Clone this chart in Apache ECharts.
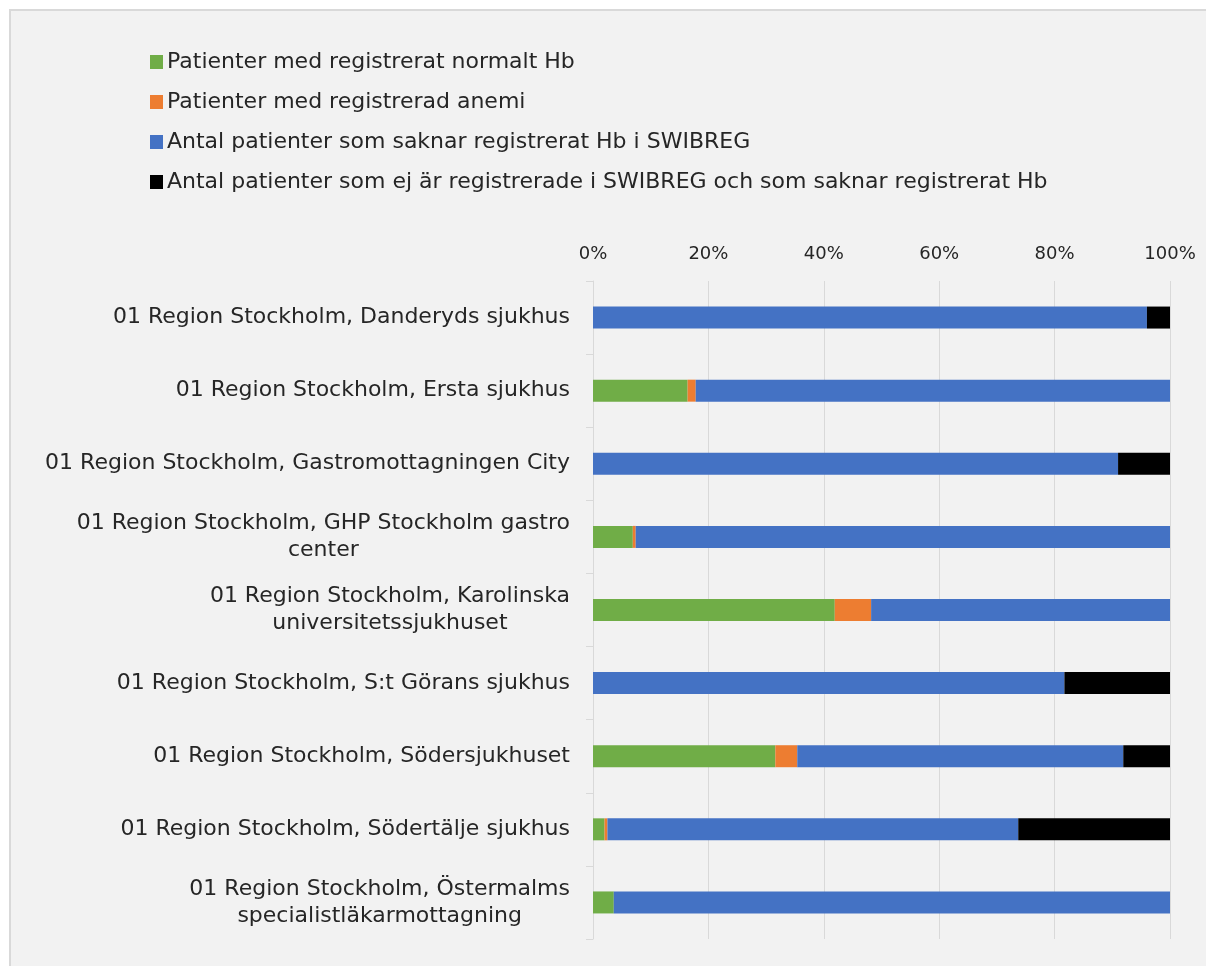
<!DOCTYPE html>
<html><head><meta charset="utf-8">
<script src="https://cdn.jsdelivr.net/npm/echarts@6/dist/echarts.min.js"></script>
<style>
html,body{margin:0;padding:0;background:#ffffff;}
#frame{position:absolute;left:9px;top:9px;width:1197px;height:957px;border-left:2px solid #d9d9d9;border-top:2px solid #d9d9d9;background:#f2f2f2;}
#chart{position:absolute;left:0;top:0;width:1197px;height:957px;}
</style></head>
<body><div id="frame"><div id="chart"></div></div>
<script>
const categories = [
  "01 Region Stockholm, Danderyds sjukhus",
  "01 Region Stockholm, Ersta sjukhus",
  "01 Region Stockholm, Gastromottagningen City",
  "01 Region Stockholm, GHP Stockholm gastro\ncenter",
  "01 Region Stockholm, Karolinska\nuniversitetssjukhuset",
  "01 Region Stockholm, S:t Görans sjukhus",
  "01 Region Stockholm, Södersjukhuset",
  "01 Region Stockholm, Södertälje sjukhus",
  "01 Region Stockholm, Östermalms\nspecialistläkarmottagning"
];
const seriesNames = [
  "Patienter med registrerat normalt Hb",
  "Patienter med registrerad anemi",
  "Antal patienter som saknar registrerat Hb i SWIBREG",
  "Antal patienter som ej är registrerade i SWIBREG och som saknar registrerat Hb"
];
const normalHb = [0, 16.4, 0, 6.9, 41.9, 0, 31.6, 2.0, 3.6];
const anemi    = [0, 1.4, 0, 0.5, 6.3, 0, 3.8, 0.5, 0];
const saknarHb = [96.0, 82.2, 91.0, 92.6, 51.8, 81.7, 56.5, 71.2, 96.4];
const ejReg    = [4.0, 0, 9.0, 0, 0, 18.3, 8.1, 26.3, 0];
const xTicks = [0, 20, 40, 60, 80, 100];

const colors = ["#70ad47", "#ed7d31", "#4472c4", "#000000"];
const values = [normalHb, anemi, saknarHb, ejReg];
const FONT = "DejaVu Sans";
const TXT = '#262626';

const chart = echarts.init(document.getElementById('chart'), null, {renderer: 'canvas'});
chart.setOption({
  backgroundColor: '#f2f2f2',
  animation: false,
  legend: {
    orient: 'vertical',
    left: 134,
    top: 34,
    itemWidth: 13,
    itemHeight: 14,
    itemGap: 16,
    icon: 'rect',
    textStyle: {fontFamily: FONT, fontSize: 22, color: TXT, lineHeight: 24, padding: [0,0,0,-1]},
    data: seriesNames
  },
  grid: {left: 582, right: 38, top: 270, bottom: 29, containLabel: false},
  xAxis: {
    type: 'value', position: 'top', min: 0, max: 100, interval: 20,
    axisLabel: {formatter: v => v + '%', fontFamily: FONT, fontSize: 18, color: TXT, margin: 18},
    axisLine: {show: false}, axisTick: {show: false},
    splitLine: {show: true, lineStyle: {color: '#d9d9d9', width: 1}}
  },
  yAxis: {
    type: 'category', inverse: true, data: categories,
    axisLine: {show: true, lineStyle: {color: '#d9d9d9', width: 1}},
    axisTick: {show: true, length: 7, lineStyle: {color: '#d9d9d9'}},
    axisLabel: {
      fontFamily: FONT, fontSize: 22, color: TXT, margin: 23, lineHeight: 27,
      formatter: v => v.split('\n').map(l => '{c|' + l + '}').join('\n'),
      rich: {c: {align: 'center', fontFamily: FONT, fontSize: 22, color: TXT, lineHeight: 27}}
    }
  },
  series: seriesNames.map((n, i) => ({
    name: n, type: 'bar', stack: 'total', barWidth: 22,
    itemStyle: {color: colors[i]},
    data: values[i]
  }))
});
</script></body></html>
